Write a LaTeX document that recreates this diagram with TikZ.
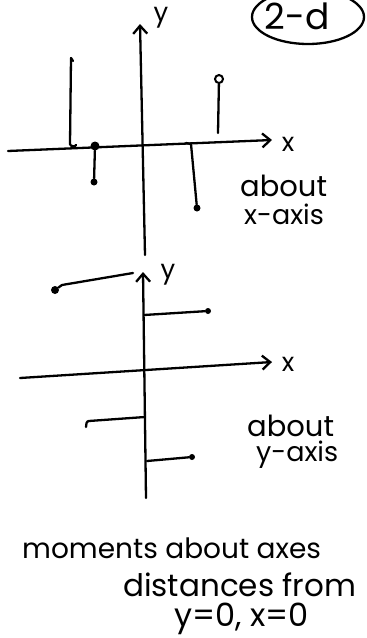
\documentclass[tikz,border=0pt]{standalone}
\usepackage{fontspec}
\setmainfont{Poppins}
\usetikzlibrary{arrows.meta}
\begin{document}
\begin{tikzpicture}[x=1pt,y=-1pt,
  pen/.style={line width=2.3pt,line cap=round,line join=round},
  axis/.style={pen,-{Straight Barb[length=8pt,width=14pt,line width=2.3pt]}},
  dotnode/.style={circle,fill,inner sep=0pt,minimum size=6pt},
  opendot/.style={circle,draw,line width=2pt,fill=white,inner sep=0pt,minimum size=8pt},
  hand/.style={font=\fontsize{#1}{#1}\selectfont,inner sep=0pt},
  hand/.default=26]
\useasboundingbox (0,0) rectangle (367,638);
% ---------- top: about x-axis ----------
\coordinate (tyb) at (145,255);
\coordinate (tyt) at (140,24);
\coordinate (txl) at (8,151);
\coordinate (txr) at (272,140);
\draw[axis] (tyb) -- (tyt);
\draw[axis] (txl) -- (txr);
\node[hand=26] (ty) at (161,18) {y};
\node[hand=26] (tx) at (288,144) {x};
% circled 2-d
\node[hand=36] (twod) at (297,16) {2-d};
\draw[pen] (308,17) ellipse [x radius=56pt, y radius=27pt];
% stem 1 (tall, up, left)
\coordinate (s1t) at (71,58);
\coordinate (s1b) at (70,144);
\draw[pen] (s1t) -- (s1b) to[out=-90,in=-100] (76,145);
\draw[pen] (s1t) -- (73,61);
% stem 2 (down)
\node[dotnode,minimum size=9pt] (s2a) at (95,146) {};
\node[dotnode,minimum size=7pt] (s2b) at (94,182) {};
\draw[pen] (s2a) -- (s2b);
% stem 3 (down, right)
\coordinate (s3a) at (191,144);
\node[dotnode,minimum size=7pt] (s3b) at (197,208) {};
\draw[pen] (186,143) -- (s3a) -- (s3b);
% stem 4 (up, right)
\node[opendot] (s4a) at (219,79) {};
\coordinate (s4b) at (218,133);
\draw[pen] (s4a) -- (s4b);
\node[hand=29,anchor=west] (ax1) at (240,186) {about};
\node[hand=27,anchor=west] (ax2) at (244,214) {x-axis};
% ---------- bottom: about y-axis ----------
\coordinate (byb) at (146,498);
\coordinate (byt) at (143,272);
\coordinate (bxl) at (20,378);
\coordinate (bxr) at (272,362);
\draw[axis] (byb) -- (byt);
\draw[axis] (bxl) -- (bxr);
\node[hand=26] (by) at (168,275) {y};
\node[hand=26] (bx) at (288,364) {x};
% arm 1 top-left
\node[dotnode,minimum size=8pt] (a1a) at (55,290) {};
\coordinate (a1b) at (133,273);
\draw[pen] (a1a) -- (62,285) -- (a1b);
% arm 2 right
\coordinate (a2a) at (144,315);
\node[dotnode,minimum size=6pt] (a2b) at (208,311) {};
\draw[pen] (a2a) -- (a2b);
% arm 3 left
\coordinate (a3a) at (145,417);
\coordinate (a3b) at (89,421);
\draw[pen] (a3a) -- (a3b) to[out=180,in=90] (86,427);
% arm 4 right
\coordinate (a4a) at (147,461);
\node[dotnode,minimum size=6pt] (a4b) at (192,457) {};
\draw[pen] (a4a) -- (a4b);
\node[hand=29,anchor=west] (ay1) at (247,426) {about};
\node[hand=27,anchor=west] (ay2) at (256,455) {y-axis};
% ---------- captions ----------
\node[hand=28,anchor=base west] (c1) at (22,558) {moments about axes};
\node[hand=31,anchor=base west] (c2) at (123,596) {distances from};
\node[hand=32,anchor=base west] (c3) at (174,626) {y=0, x=0};
\end{tikzpicture}
\end{document}
